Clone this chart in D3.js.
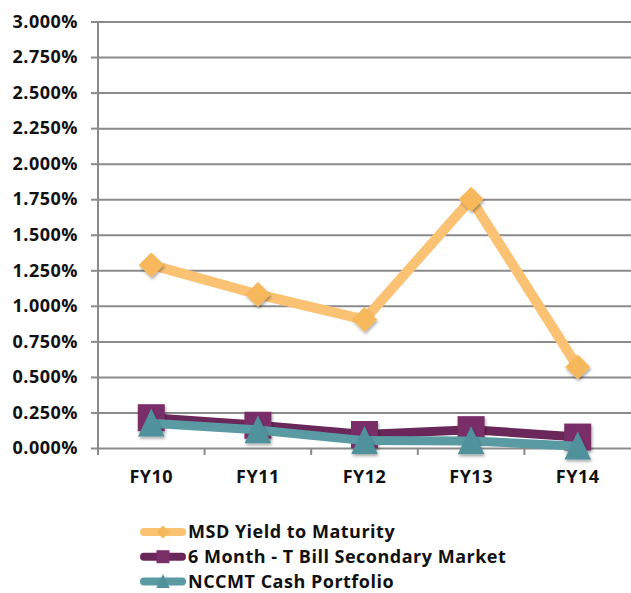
<!DOCTYPE html>
<html>
<head>
<meta charset="utf-8">
<script src="https://cdn.jsdelivr.net/npm/d3@7"></script>
<style>
  body { margin: 0; background: #fff; }
  svg { display: block; font-family: "Open Sans", sans-serif; font-weight: 700; }
</style>
</head>
<body>
<div id="chart"></div>
<script>
const categories = ["FY10", "FY11", "FY12", "FY13", "FY14"]
const msdYield = [0.01288, 0.01080, 0.00903, 0.01750, 0.00570]
const tBill = [0.00213, 0.00160, 0.00095, 0.00129, 0.00077]
const nccmt = [0.00174, 0.00127, 0.00052, 0.00050, 0.00012]
const yTicks = [0, 0.0025, 0.005, 0.0075, 0.01, 0.0125, 0.015, 0.0175, 0.02, 0.0225, 0.025, 0.0275, 0.03]
const seriesNames = ["MSD Yield to Maturity", "6 Month - T Bill Secondary Market", "NCCMT Cash Portfolio"]

const width = 631
const height = 593
const plotLeft = 98
const plotRight = 631
const plotTop = 21.5
const plotBottom = 448

const series = [
  { name: seriesNames[0], values: msdYield, line: "#fcc273", fill: "#f7b85c", marker: "diamond", lw: 10 },
  { name: seriesNames[1], values: tBill, line: "#6a2759", fill: "#7a2f68", marker: "square", lw: 9 },
  { name: seriesNames[2], values: nccmt, line: "#5a9aa3", fill: "#4f929c", marker: "triangle", lw: 9 }
]

const svg = d3.select("#chart")
  .append("svg")
  .attr("width", width)
  .attr("height", height)

const defs = svg.append("defs")
const shadow = defs.append("filter")
  .attr("id", "shadow")
  .attr("x", "-50%").attr("y", "-50%")
  .attr("width", "200%").attr("height", "200%")
shadow.append("feDropShadow")
  .attr("dx", 1).attr("dy", 2)
  .attr("stdDeviation", 1.5)
  .attr("flood-color", "#000")
  .attr("flood-opacity", 0.35)

const x = d3.scaleBand()
  .domain(categories)
  .range([plotLeft, plotRight])
  .padding(0)

const y = d3.scaleLinear()
  .domain([0, 0.03])
  .range([plotBottom, plotTop])

const textStyle = g => g
  .attr("fill", "#111")
  .style("font-size", "18px")
  .style("letter-spacing", "0.5px")
  .style("font-family", "'Open Sans', sans-serif")
  .style("font-weight", 700)

// gridlines
svg.append("g")
  .attr("transform", `translate(${plotLeft},0)`)
  .call(d3.axisLeft(y).tickValues(yTicks).tickSize(-(plotRight - plotLeft)).tickFormat(""))
  .call(g => g.select(".domain").remove())
  .call(g => g.selectAll("line").attr("stroke", "#8a8a8a").attr("stroke-width", 2))

// y axis with labels
svg.append("g")
  .attr("transform", `translate(${plotLeft},0)`)
  .call(d3.axisLeft(y).tickValues(yTicks).tickSize(7).tickSizeOuter(0).tickPadding(13).tickFormat(d3.format(".3%")))
  .call(g => g.select(".domain").attr("stroke", "#8a8a8a").attr("stroke-width", 2)
    .attr("d", `M0,${plotTop}V${plotBottom + 7}`))
  .call(g => g.selectAll("line").attr("stroke", "#8a8a8a").attr("stroke-width", 2))
  .call(g => g.selectAll("text").call(textStyle))

// x axis: tick marks between categories
svg.append("g")
  .selectAll("line")
  .data(categories)
  .enter()
  .append("line")
  .attr("x1", d => x(d))
  .attr("x2", d => x(d))
  .attr("y1", plotBottom)
  .attr("y2", plotBottom + 7)
  .attr("stroke", "#8a8a8a")
  .attr("stroke-width", 2)

svg.append("g")
  .attr("transform", `translate(0,${plotBottom})`)
  .call(d3.axisBottom(x).tickSize(0).tickPadding(22))
  .call(g => g.select(".domain").remove())
  .call(g => g.selectAll("text").call(textStyle))

const cx = d => x(d) + x.bandwidth() / 2

const line = d3.line()
  .x((d, i) => cx(categories[i]))
  .y(d => y(d))

function markerPath(type, s) {
  if (type === "diamond") return `M0,${-s}L${s},0L0,${s}L${-s},0Z`
  if (type === "square") return `M${-s},${-s}H${s}V${s}H${-s}Z`
  return `M0,${-s * 1.05}L${s * 0.95},${s * 0.95}L${-s * 0.95},${s * 0.95}Z`
}

const markerSize = { diamond: 12.5, square: 13.5, triangle: 14 }

series.forEach(s => {
  svg.append("path")
    .datum(s.values)
    .attr("fill", "none")
    .attr("stroke", s.line)
    .attr("stroke-width", s.lw)
    .attr("stroke-linejoin", "round")
    .attr("d", line)

  svg.append("g")
    .selectAll("path")
    .data(s.values)
    .enter()
    .append("path")
    .attr("transform", (d, i) => `translate(${cx(categories[i])},${y(d)})`)
    .attr("d", markerPath(s.marker, markerSize[s.marker]))
    .attr("fill", s.fill)
    .attr("filter", "url(#shadow)")
})

// legend
const legend = svg.append("g")
  .attr("transform", "translate(140,532)")

const rows = legend.selectAll("g")
  .data(series)
  .enter()
  .append("g")
  .attr("transform", (d, i) => `translate(0,${i * 24.7})`)

rows.append("line")
  .attr("x1", 4).attr("x2", 42)
  .attr("y1", 0).attr("y2", 0)
  .attr("stroke", d => d.line)
  .attr("stroke-width", 8)
  .attr("stroke-linecap", "round")

rows.append("path")
  .attr("transform", "translate(23,0)")
  .attr("d", d => markerPath(d.marker, d.marker === "triangle" ? 7 : 6.5))
  .attr("fill", d => d.fill)

rows.append("text")
  .attr("x", 48)
  .attr("y", 0)
  .attr("dy", "0.35em")
  .call(textStyle)
  .text(d => d.name)
</script>
</body>
</html>
